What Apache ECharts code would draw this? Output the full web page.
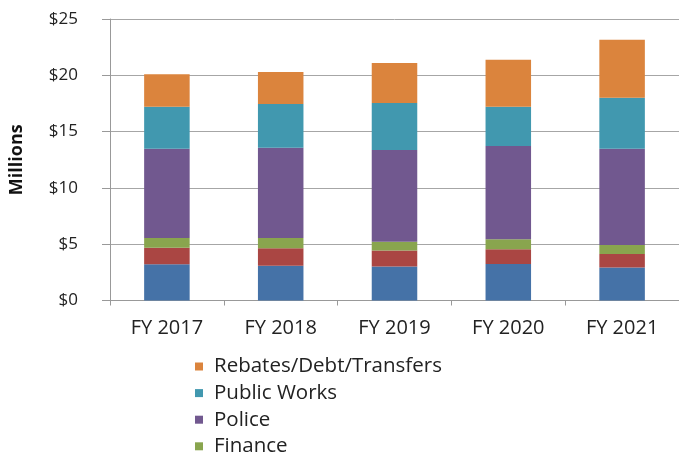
<!DOCTYPE html>
<html>
<head>
<meta charset="utf-8">
<script src="https://cdn.jsdelivr.net/npm/echarts@6/dist/echarts.min.js"></script>
<style>
  html, body { margin: 0; padding: 0; background: #fff; }
  #chart { width: 679px; height: 456px; }
</style>
</head>
<body>
<div id="chart"></div>
<script>
// Fiscal years on the category axis
const years = ['FY 2017', 'FY 2018', 'FY 2019', 'FY 2020', 'FY 2021'];

// Spending by department, in millions of dollars (stacked bottom to top)
const administration = [3.23, 3.09, 3.02, 3.25, 2.93];
const communityDev   = [1.45, 1.56, 1.42, 1.31, 1.21];
const finance        = [0.86, 0.89, 0.77, 0.89, 0.78];
const police         = [7.94, 8.02, 8.15, 8.27, 8.56];
const publicWorks    = [3.73, 3.89, 4.18, 3.49, 4.53];
const rebates        = [2.88, 2.84, 3.55, 4.18, 5.15];

const seriesNames = ['Administration', 'Community Development', 'Finance', 'Police', 'Public Works', 'Rebates/Debt/Transfers'];
const seriesData = [administration, communityDev, finance, police, publicWorks, rebates];
const colors = ['#4572a7', '#aa4643', '#89a54e', '#71588f', '#4198af', '#db843d'];

const yTicks = [0, 5, 10, 15, 20, 25];

const chart = echarts.init(document.getElementById('chart'));
const font = '"Open Sans", "Noto Sans", sans-serif';

chart.setOption({
  animation: false,
  color: colors,
  textStyle: { fontFamily: font },
  grid: { left: 109, right: -2, top: 19, bottom: 155.5, containLabel: false },
  legend: {
    orient: 'vertical',
    left: 195,
    top: 356,
    height: 260,
    padding: 0,
    itemWidth: 8,
    itemHeight: 8,
    itemGap: 5.6,
    icon: 'rect',
    data: seriesNames.slice().reverse(),
    textStyle: { fontFamily: font, fontSize: 20.5, lineHeight: 20, color: '#222', padding: [0, 0, 0, 6] }
  },
  xAxis: {
    type: 'category',
    data: years,
    boundaryGap: true,
    axisLine: { lineStyle: { color: '#999', width: 1 } },
    axisTick: { show: true, length: 5, alignWithLabel: false, lineStyle: { color: '#999' } },
    axisLabel: { fontFamily: font, fontSize: 20, lineHeight: 20, color: '#222', margin: 18 }
  },
  yAxis: {
    type: 'value',
    min: yTicks[0],
    max: yTicks[yTicks.length - 1],
    interval: 5,
    name: 'Millions',
    nameLocation: 'middle',
    nameRotate: 90,
    nameGap: 84,
    nameTextStyle: { fontFamily: font, fontSize: 18, fontWeight: 'bold', color: '#111' },
    axisLine: { show: true, lineStyle: { color: '#999', width: 1 } },
    axisTick: { show: true, length: 8, lineStyle: { color: '#999' } },
    splitLine: { lineStyle: { color: '#a6a6a6', width: 1 } },
    axisLabel: {
      fontFamily: font, fontSize: 17, color: '#222', margin: 32,
      formatter: v => '$' + v
    }
  },
  series: seriesNames.map((name, i) => ({
    name,
    type: 'bar',
    stack: 'total',
    barWidth: '40%',
    data: seriesData[i]
  }))
});
</script>
</body>
</html>
